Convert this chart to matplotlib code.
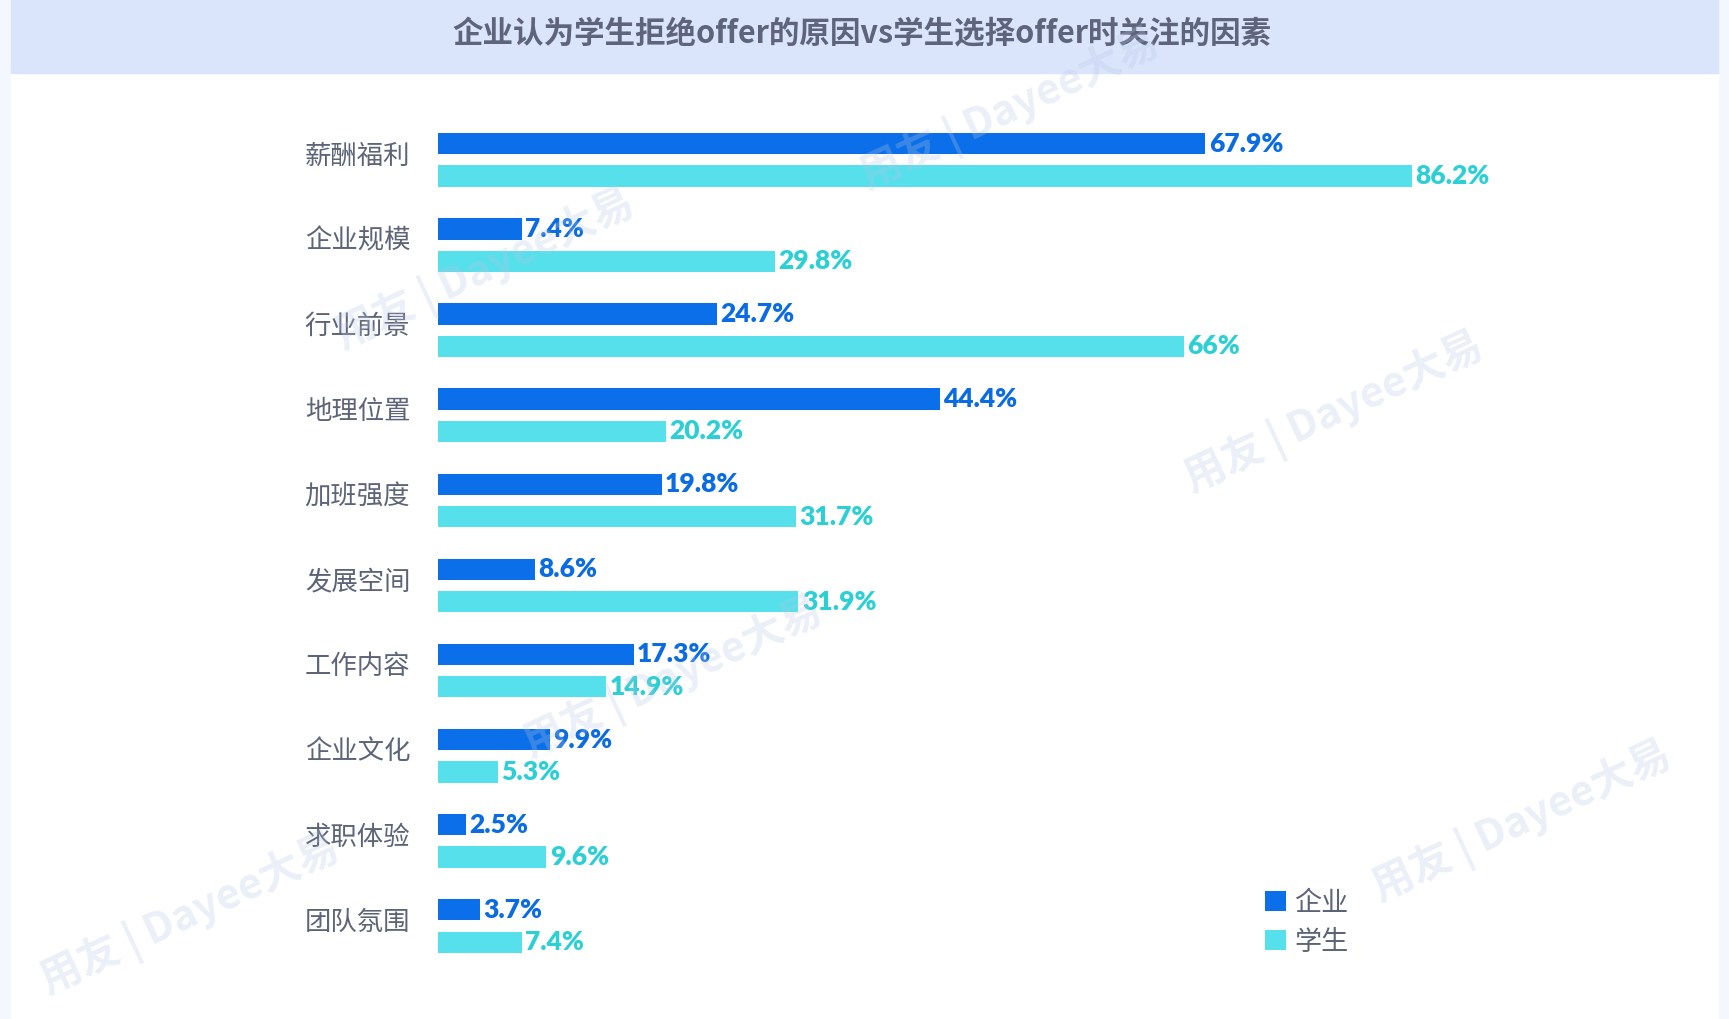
import matplotlib.pyplot as plt
from matplotlib.patches import Rectangle

plt.rcParams['font.family'] = ['Noto Sans CJK SC', 'DejaVu Sans']

categories = ['薪酬福利', '企业规模', '行业前景', '地理位置', '加班强度',
              '发展空间', '工作内容', '企业文化', '求职体验', '团队氛围']
enterprise = [67.9, 7.4, 24.7, 44.4, 19.8, 8.6, 17.3, 9.9, 2.5, 3.7]
student = [86.2, 29.8, 66, 20.2, 31.7, 31.9, 14.9, 5.3, 9.6, 7.4]
series_names = ['企业', '学生']
title = '企业认为学生拒绝offer的原因vs学生选择offer时关注的因素'

W, H = 1729, 1019
blue, blue_txt = '#0b6fe9', '#0a6be2'
cyan, cyan_txt = '#55e0ec', '#2ccfd4'
gray = '#5d6478'

fig = plt.figure(figsize=(W / 100, H / 100), dpi=100)
fig.patch.set_facecolor('#f4f7fd')

# white panel and title band
fig.patches.append(Rectangle((11 / W, 0), (1718 - 11) / W, 1 - 73 / H,
                             transform=fig.transFigure, color='white', zorder=-5))
fig.patches.append(Rectangle((11 / W, 1 - 73 / H), (1718 - 11) / W, 73 / H,
                             transform=fig.transFigure, color='#dae5fc', zorder=-5))
fig.text(862 / W, 1 - 34 / H, title, ha='center', va='center',
         fontsize=22, color='#5d647b', fontweight='bold')

ax = fig.add_axes([438 / W, 0.0495, 0.6536, 0.8353])
ax.set_facecolor('none')

y = list(range(len(categories)))
off, h = 0.19, 0.25
b1 = ax.barh([i - off for i in y], enterprise, height=h, color=blue, label=series_names[0])
b2 = ax.barh([i + off for i in y], student, height=h, color=cyan, label=series_names[1])

for i, v in enumerate(enterprise):
    ax.text(v + 0.3, i - off, f'{v:g}%', va='center', ha='left', fontsize=19,
            fontweight='heavy', color=blue_txt, family=['Lato', 'DejaVu Sans'])
for i, v in enumerate(student):
    ax.text(v + 0.3, i + off, f'{v:g}%', va='center', ha='left', fontsize=19,
            fontweight='heavy', color=cyan_txt, family=['Lato', 'DejaVu Sans'])

ax.set_xlim(0, 100)
ax.set_ylim(len(categories) - 0.5, -0.5)
# labels sit a little above the middle of each pair
ax.set_yticks([i - 0.08 for i in y])
ax.set_yticklabels(categories, fontsize=19, color=gray)
ax.tick_params(axis='y', length=0, pad=20)
ax.set_xticks([])
for s in ax.spines.values():
    s.set_visible(False)

leg = ax.legend(handles=[b1, b2], loc='upper left',
                bbox_to_anchor=(1251 / W, 1 - 876 / H), bbox_transform=fig.transFigure,
                frameon=False, fontsize=19.5, handlelength=0.78, handleheight=0.78,
                handletextpad=0.32, labelspacing=0.45, borderpad=0)
for t in leg.get_texts():
    t.set_color(gray)

# faint watermark
for wx, wy in [(485, 270), (1334, 413), (673, 678), (1522, 822), (1010, 110), (190, 915)]:
    fig.text(wx / W, 1 - wy / H, '用友 | Dayee大易', ha='center', va='center',
             rotation=25, fontsize=30, fontweight='bold', fontstyle='italic',
             color='#b9c6e4', alpha=0.28, zorder=10)

fig.savefig('out.png', dpi=100, facecolor=fig.get_facecolor())
